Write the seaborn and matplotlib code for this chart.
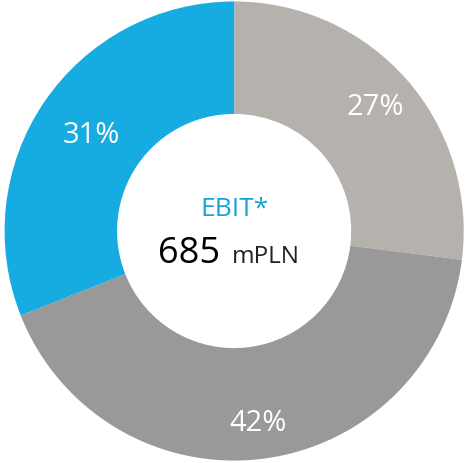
import matplotlib
matplotlib.use("Agg")
import matplotlib.pyplot as plt
import seaborn as sns
import numpy as np

labels = ["A", "B", "C"]
shares = [27, 42, 31]
pct_labels = ["27%", "42%", "31%"]
colors = ["#b5b2ad", "#999999", "#16ace2"]
center_title = "EBIT*"
center_value = "685"
center_unit = "mPLN"

sns.set_theme(style="white")
plt.rcParams['font.family'] = ['Open Sans', 'DejaVu Sans']

fig = plt.figure(figsize=(4.66, 4.64), dpi=100)
ax = fig.add_axes([0, 0, 1, 1])
wedges, _ = ax.pie(shares, colors=colors, startangle=90, counterclock=False,
                   radius=1.0, wedgeprops=dict(width=0.49, edgecolor="white", linewidth=0))
label_r = [0.82, 0.84, 0.75]
ang = 90.0
for s, t, r in zip(shares, pct_labels, label_r):
    mid = np.deg2rad(ang - s * 3.6 / 2)
    ang -= s * 3.6
    ax.text(r * np.cos(mid), r * np.sin(mid), t, ha="center", va="center",
            color="white", fontsize=21)
ax.text(0, 0.07, center_title, ha="center", va="baseline", color="#16a3d6", fontsize=19)
ax.text(-0.062, -0.135, center_value, ha="right", va="baseline", color="black", fontsize=26)
ax.text(-0.01, -0.135, center_unit, ha="left", va="baseline", color="#222222", fontsize=17.5)
ax.set_xlim(-1.02, 1.01)
ax.set_ylim(-1.01, 1.01)
ax.set_aspect("equal")
ax.axis("off")
fig.savefig("out.png", dpi=100)
